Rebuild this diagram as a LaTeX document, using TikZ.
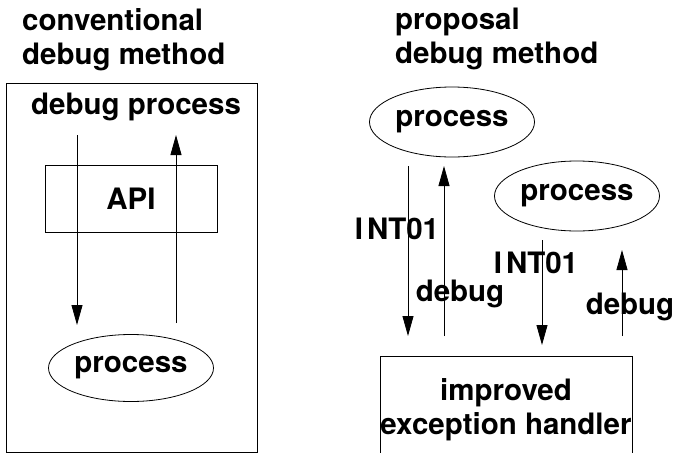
\documentclass[tikz,border=0pt]{standalone}
\usepackage{fontspec}
\setmainfont{TeX Gyre Heros}
\usetikzlibrary{arrows.meta}
\usetikzlibrary{shapes.geometric}

\begin{document}
\begin{tikzpicture}[x=1pt,y=-1pt]
	\tikzset{txt/.style={font=\fontsize{29.5}{34}\selectfont\bfseries,inner sep=0pt},
		procnode/.style={txt,draw,ellipse,line width=0.8pt,minimum width=165pt,minimum height=70pt},
		boxnode/.style={txt,rectangle,line width=0.8pt},
		arr/.style={line width=0.8pt,-{Triangle[length=20pt,width=11pt]}}}
	\useasboundingbox (0,0) rectangle (673,453);
	
	% Titles
	\node[txt,anchor=north west,align=left] (tconv) at (22,8) {conventional\\debug method};
	\node[txt,anchor=north west,align=left] (tprop) at (395,8) {proposal\\debug method};
	
	% Conventional method
	\node[draw,line width=0.8pt,minimum width=251pt,minimum height=369pt] (frame) at (131.5,267.5) {};
	\node[txt] (dbgproc) at (136,107) {debug process};
	\node[boxnode,draw,minimum width=172pt,minimum height=67pt] (api) at (131,198.5) {API};
	\node[procnode,minimum height=67pt] (procL) at (131,368) {process};
	\coordinate (downA) at (77,135);
	\coordinate (downB) at (77,325);
	\coordinate (upA) at (176,323);
	\coordinate (upB) at (176,135);
	\draw[arr] (downA) -- (downB);
	\draw[arr] (upA) -- (upB);
	
	% Proposal method
	\node[procnode] (procA) at (452,122) {process};
	\node[procnode] (procB) at (577,196) {process};
	\node[boxnode,minimum width=248pt,minimum height=106pt,align=center] (handler) at (506,410) {improved\\exception handler};
	\draw[line width=0.8pt] (handler.south west) -- (handler.north west) -- (handler.north east) -- (handler.south east);
	
	\coordinate (intA) at (408,166);
	\coordinate (intAend) at (408,336);
	\coordinate (dbgA) at (444,336);
	\coordinate (dbgAend) at (444,166);
	\coordinate (intB) at (542,240);
	\coordinate (intBend) at (542,345);
	\coordinate (dbgB) at (622,336);
	\coordinate (dbgBend) at (622,250);
	\draw[arr] (intA) -- (intAend);
	\draw[arr] (dbgA) -- (dbgAend);
	\draw[arr] (intB) -- (intBend);
	\draw[arr] (dbgB) -- (dbgBend);
	
	% Arrow labels
	\node[txt] (lintA) at (397,229) {I\kern4pt NT01};
	\node[txt] (ldbgA) at (460,294) {debug};
	\node[txt] (lintB) at (536,263) {I\kern4pt NT01};
	\node[txt] (ldbgB) at (630,307) {debug};
\end{tikzpicture}
\end{document}
